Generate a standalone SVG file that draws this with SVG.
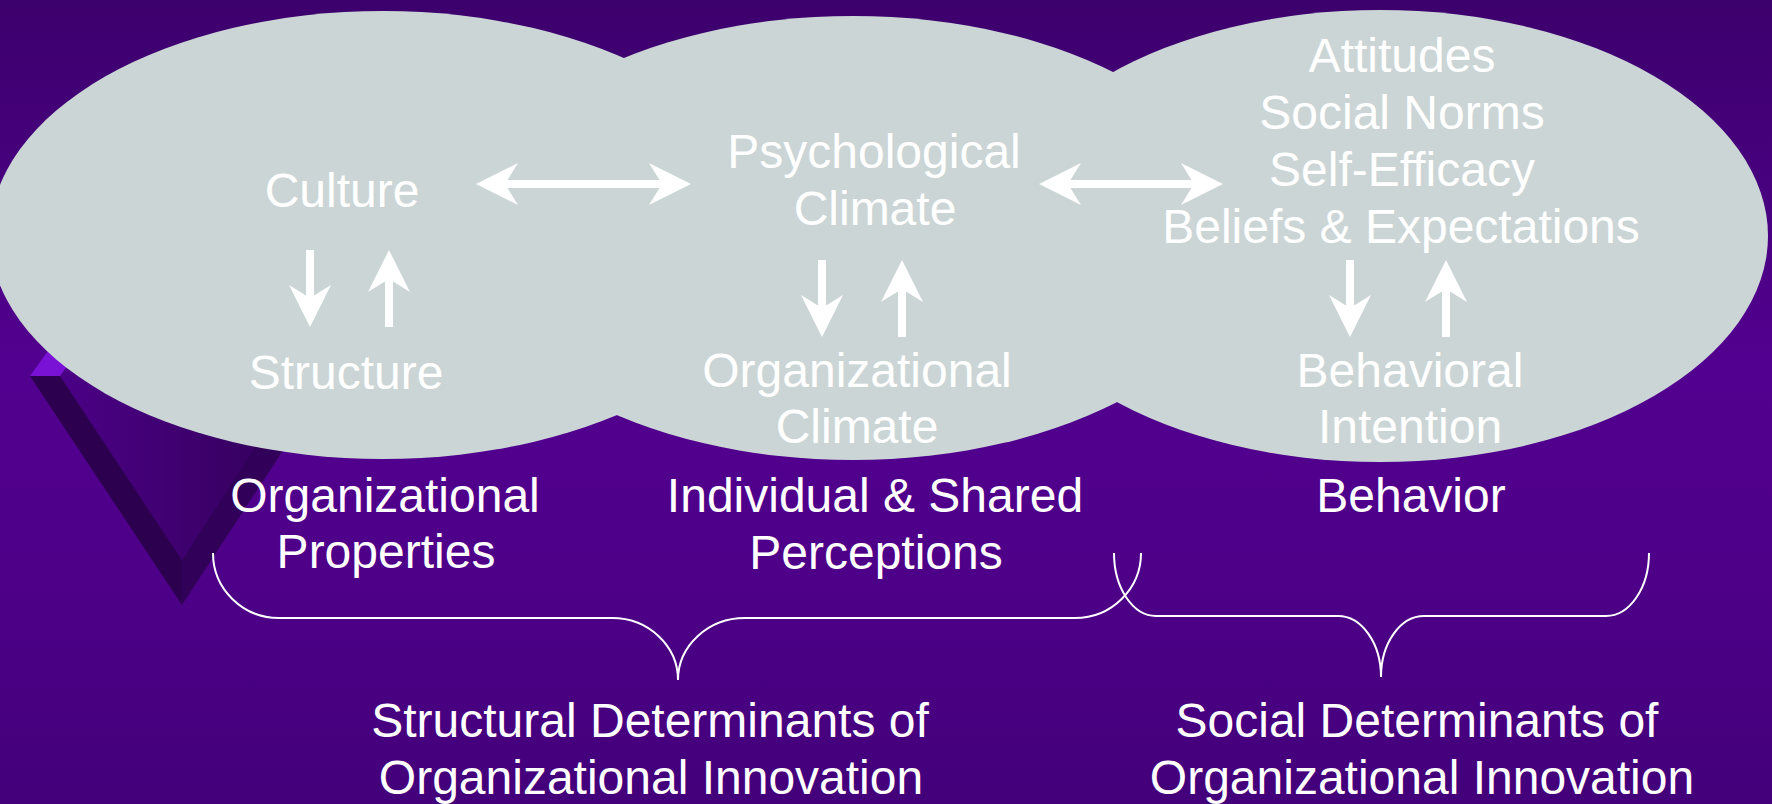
<svg xmlns="http://www.w3.org/2000/svg" width="1772" height="804" viewBox="0 0 1772 804">
  <defs>
    <linearGradient id="bg" x1="0" y1="0" x2="0" y2="1">
      <stop offset="0" stop-color="#3c006c"/>
      <stop offset="0.45" stop-color="#52008f"/>
      <stop offset="0.7" stop-color="#4e0089"/>
      <stop offset="1" stop-color="#43007a"/>
    </linearGradient>
    <linearGradient id="vInner" x1="60" y1="0" x2="260" y2="0" gradientUnits="userSpaceOnUse">
      <stop offset="0" stop-color="#4b0086"/>
      <stop offset="1" stop-color="#370060"/>
    </linearGradient>
    <marker id="head" viewBox="0 0 44 44" markerWidth="44" markerHeight="44" refX="13" refY="22" orient="auto-start-reverse" markerUnits="userSpaceOnUse">
      <path d="M0,1 L42,22 L0,43 L13,22 Z" fill="#ffffff"/>
    </marker>
    <style>
      .blob { fill: #cbd5d6; }
      .lbl { font-family: "Liberation Sans", Arial, Helvetica, sans-serif; font-size: 48px; fill: #ffffff; text-anchor: middle; }
      .link { stroke: #ffffff; stroke-width: 8; fill: none; }
      .brace { stroke: #ffffff; stroke-width: 2; fill: none; }
    </style>
  </defs>

  <!-- backdrop -->
  <rect x="0" y="0" width="1772" height="804" fill="url(#bg)"/>

  <!-- bevelled V ornament, mostly tucked behind the left oval -->
  <g id="v-ornament">
    <polygon points="60,376 182,560 350,300 100,300" fill="url(#vInner)"/>
    <polygon points="30,376 60,376 100,320 70,320" fill="#7a12d6"/>
    <polygon points="30,376 60,376 182,560 182,605" fill="#2c004e"/>
    <polygon points="182,605 182,560 350,300 381,300" fill="#310059"/>
  </g>

  <!-- the three overlapping ovals -->
  <g id="oval-organizational">
    <ellipse class="blob" cx="383" cy="235" rx="393" ry="224"/>
  </g>
  <g id="oval-perceptions">
    <ellipse class="blob" cx="853" cy="238" rx="392" ry="222"/>
  </g>
  <g id="oval-behavior">
    <ellipse class="blob" cx="1380" cy="236" rx="388" ry="226"/>
  </g>

  <!-- concepts inside the ovals -->
  <g id="culture"><text class="lbl" x="342" y="207">Culture</text></g>
  <g id="structure"><text class="lbl" x="346" y="389">Structure</text></g>
  <g id="psychological-climate">
    <text class="lbl" x="874" y="168">Psychological</text>
    <text class="lbl" x="875" y="225">Climate</text>
  </g>
  <g id="organizational-climate">
    <text class="lbl" x="857" y="387">Organizational</text>
    <text class="lbl" x="857" y="443">Climate</text>
  </g>
  <g id="attitudes-beliefs">
    <text class="lbl" x="1402" y="72">Attitudes</text>
    <text class="lbl" x="1402" y="129">Social Norms</text>
    <text class="lbl" x="1402" y="186">Self-Efficacy</text>
    <text class="lbl" x="1401" y="243">Beliefs &amp; Expectations</text>
  </g>
  <g id="behavioral-intention">
    <text class="lbl" x="1410" y="387">Behavioral</text>
    <text class="lbl" x="1410" y="443">Intention</text>
  </g>

  <!-- connectors -->
  <g id="connectors">
    <line class="link" x1="505" y1="184" x2="662" y2="184" marker-start="url(#head)" marker-end="url(#head)"/>
    <line class="link" x1="1068" y1="184" x2="1194" y2="184" marker-start="url(#head)" marker-end="url(#head)"/>
    <line class="link" x1="310" y1="250" x2="310" y2="298" marker-end="url(#head)"/>
    <line class="link" x1="389" y1="327" x2="389" y2="279" marker-end="url(#head)"/>
    <line class="link" x1="822" y1="260" x2="822" y2="308" marker-end="url(#head)"/>
    <line class="link" x1="902" y1="337" x2="902" y2="289" marker-end="url(#head)"/>
    <line class="link" x1="1350" y1="260" x2="1350" y2="308" marker-end="url(#head)"/>
    <line class="link" x1="1446" y1="337" x2="1446" y2="289" marker-end="url(#head)"/>
  </g>

  <!-- oval captions -->
  <g id="caption-organizational">
    <text class="lbl" x="385" y="512">Organizational</text>
    <text class="lbl" x="386" y="568">Properties</text>
  </g>
  <g id="caption-perceptions">
    <text class="lbl" x="875" y="512">Individual &amp; Shared</text>
    <text class="lbl" x="876" y="569">Perceptions</text>
  </g>
  <g id="caption-behavior">
    <text class="lbl" x="1411" y="512">Behavior</text>
  </g>

  <!-- grouping braces -->
  <g id="brace-structural">
    <path class="brace" d="M213,553 A66,65 0 0 0 279,618 L612,618 A66,62 0 0 1 678,680 A67,62 0 0 1 745,618 L1075,618 A66,65 0 0 0 1141,553"/>
  </g>
  <g id="brace-social">
    <path class="brace" d="M1114,553 A42,63 0 0 0 1156,616 L1338,616 A43,61 0 0 1 1381,677 A43,61 0 0 1 1424,616 L1606,616 A43,63 0 0 0 1649,553"/>
  </g>

  <g id="structural-determinants">
    <text class="lbl" x="650" y="737">Structural Determinants of</text>
    <text class="lbl" x="651" y="794">Organizational Innovation</text>
  </g>
  <g id="social-determinants">
    <text class="lbl" x="1417" y="737">Social Determinants of</text>
    <text class="lbl" x="1422" y="794">Organizational Innovation</text>
  </g>
</svg>
